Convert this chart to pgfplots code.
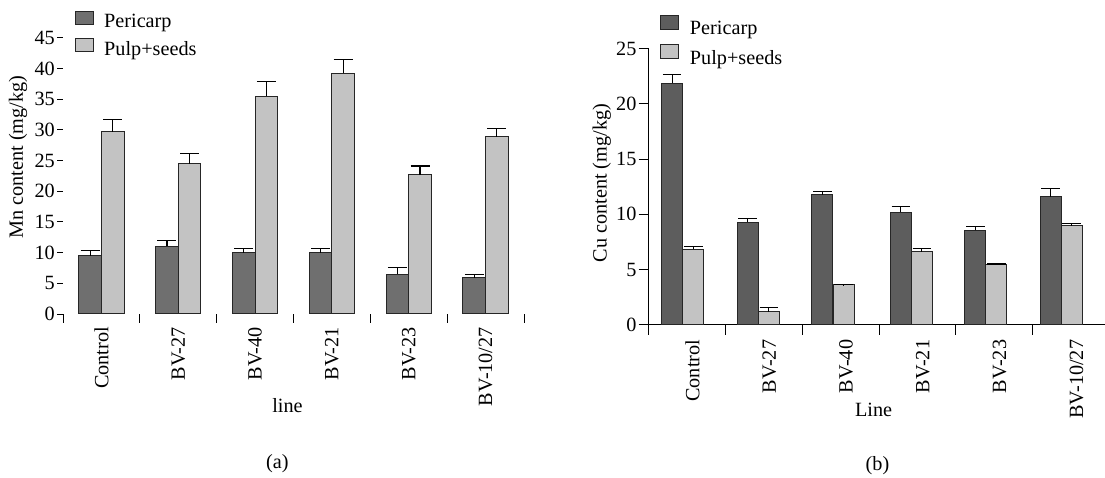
\documentclass[border=0pt]{standalone}
\usepackage{fontspec}
\setmainfont{Liberation Serif}
\usepackage{pgfplots}
\pgfplotsset{compat=1.18}
\definecolor{darkA}{HTML}{6F6F6F}
\definecolor{darkB}{HTML}{5D5D5D}
\definecolor{lightG}{HTML}{C3C3C3}
\definecolor{edge}{HTML}{262626}
\pgfplotsset{
  every axis/.append style={font=\fontsize{20.3}{24}\selectfont},
  /pgf/number format/assume math mode=true,
}
\begin{document}
\begin{tikzpicture}[x=1bp,y=1bp]
\path[use as bounding box] (0,0) rectangle (1105,478);

% ---------------- panel (a)
\begin{axis}[
  at={(63bp,164bp)}, anchor=south west,
  x=76.83bp, y=6.14bp,
  xmin=-0.5, xmax=5.5, ymin=0, ymax=45,
  axis x line*=bottom, axis y line*=left,
  axis line style={draw=none},
  clip=false,
  tick align=outside,
  major tick length=6bp, minor tick length=9bp,
  tick style={black, line width=0.9bp},
  ytick={0,5,...,45},
  yticklabel style={inner sep=2bp},
  xtick={0,...,5},
  xticklabels={Control,BV-27,BV-40,BV-21,BV-23,BV-10/27},
  xticklabel style={yshift=-7bp, rotate=90, anchor=east, inner sep=0pt},
  major x tick style={draw=none},
  minor xtick={-0.5,0.5,...,5.5},
  ybar, bar width=22.6bp, bar shift=0pt,
  xlabel={line},
  xlabel style={at={(axis description cs:0.487,-0.358)}, anchor=base},
  ylabel={Mn content (mg/kg)},
  ylabel style={at={(axis description cs:-0.0976,0.568)}, anchor=center, rotate=0},
  legend style={draw=none, fill=none, inner sep=0pt, at={(axis description cs:0.0260,1.099)}, anchor=north west,
    nodes={inner sep=0pt}, row sep=9bp, column sep=10bp, font=\fontsize{20.3}{24}\selectfont},
  legend cell align=left,
  legend image code/.code={\draw[#1] (0bp,-2.5bp) rectangle (18bp,10.5bp);},
  error bars/y dir=plus, error bars/y explicit,
  error bars/error bar style={black, line width=1.1bp},
  error bars/error mark options={black, line width=1.1bp, mark size=9.5bp, rotate=90},
]
\addplot[fill=darkA, draw=edge, line width=1bp] coordinates {
  (-0.147,9.5) +- (0,0.8)
  (0.853,11.0) +- (0,0.9)
  (1.853,10.0) +- (0,0.6)
  (2.853,10.0) +- (0,0.7)
  (3.853,6.5) +- (0,1.1)
  (4.853,5.9) +- (0,0.6)
};
\addlegendentry{Pericarp}
\addplot[fill=lightG, draw=edge, line width=1bp] coordinates {
  (0.147,29.7) +- (0,2.0)
  (1.147,24.5) +- (0,1.6)
  (2.147,35.5) +- (0,2.3)
  (3.147,39.2) +- (0,2.3)
  (4.147,22.7) +- (0,1.4)
  (5.147,28.9) +- (0,1.3)
};
\addlegendentry{Pulp+seeds}
\end{axis}

% ---------------- panel (b)
\begin{axis}[
  at={(648.6bp,153.3bp)}, anchor=south west,
  x=76.82bp, y=11.04bp,
  xmin=-0.5, xmax=5.44, ymin=0, ymax=25,
  axis x line*=bottom, axis y line*=left,
  axis line style={black, line width=1bp},
  clip=false,
  tick align=outside,
  major tick length=10bp, minor tick length=10bp,
  tick style={black, line width=0.9bp},
  ytick={0,5,...,25},
  yticklabel style={inner sep=2bp},
  xtick={0.07,1.07,2.07,3.07,4.07,5.07},
  xticklabels={Control,BV-27,BV-40,BV-21,BV-23,BV-10/27},
  xticklabel style={yshift=-5bp, rotate=90, anchor=east, inner sep=0pt},
  major x tick style={draw=none},
  minor xtick={-0.5,0.5,...,4.5},
  ybar, bar width=21bp, bar shift=0pt,
  xlabel={Line},
  xlabel style={at={(axis description cs:0.493,-0.333)}, anchor=base},
  ylabel={Cu content (mg/kg)},
  ylabel style={at={(axis description cs:-0.1028,0.513)}, anchor=center, rotate=0},
  legend style={draw=none, fill=none, inner sep=0pt, at={(axis description cs:0.0245,1.122)}, anchor=north west,
    nodes={inner sep=0pt}, row sep=8bp, column sep=10.7bp, font=\fontsize{20.3}{24}\selectfont},
  legend cell align=left,
  legend image code/.code={\draw[#1] (0bp,0bp) rectangle (18.3bp,13.3bp);},
  error bars/y dir=plus, error bars/y explicit,
  error bars/error bar style={black, line width=1.1bp},
  error bars/error mark options={black, line width=1.1bp, mark size=9.3bp, rotate=90},
]
\addplot[fill=darkB, draw=edge, line width=1bp] coordinates {
  (-0.193,21.87) +- (0,0.83)
  (0.791,9.30) +- (0,0.30)
  (1.763,11.75) +- (0,0.30)
  (2.783,10.18) +- (0,0.51)
  (3.753,8.55) +- (0,0.33)
  (4.733,11.60) +- (0,0.70)
};
\addlegendentry{Pericarp}
\addplot[fill=lightG, draw=edge, line width=1bp] coordinates {
  (0.081,6.83) +- (0,0.24)
  (1.065,1.18) +- (0,0.36)
  (2.037,3.60) +- (0,0.03)
  (3.057,6.61) +- (0,0.27)
  (4.027,5.41) +- (0,0.09)
  (5.007,8.94) +- (0,0.24)
};
\addlegendentry{Pulp+seeds}
\end{axis}

\node[anchor=base, font=\fontsize{20.3}{24}\selectfont] at (277.3,9) {(a)};
\node[anchor=base, font=\fontsize{20.3}{24}\selectfont] at (877.5,7) {(b)};
\end{tikzpicture}
\end{document}
